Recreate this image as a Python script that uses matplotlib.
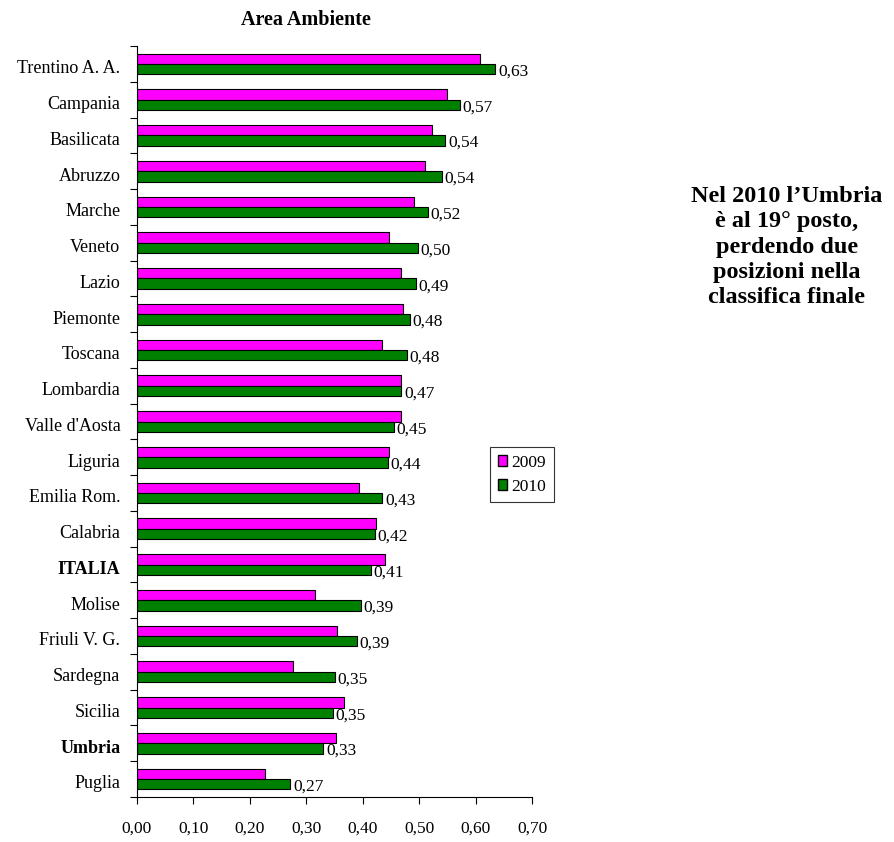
import matplotlib
matplotlib.use("Agg")
import matplotlib.pyplot as plt
import numpy as np
from matplotlib.patches import Patch

plt.rcParams['font.family'] = ['Liberation Serif', 'DejaVu Serif']

regions = ["Trentino A. A.", "Campania", "Basilicata", "Abruzzo", "Marche", "Veneto",
           "Lazio", "Piemonte", "Toscana", "Lombardia", "Valle d'Aosta", "Liguria",
           "Emilia Rom.", "Calabria", "ITALIA", "Molise", "Friuli V. G.", "Sardegna",
           "Sicilia", "Umbria", "Puglia"]
v2009 = [0.607, 0.549, 0.522, 0.510, 0.490, 0.446, 0.468, 0.471, 0.435, 0.468, 0.468,
         0.446, 0.394, 0.424, 0.439, 0.316, 0.355, 0.277, 0.366, 0.352, 0.227]
v2010 = [0.635, 0.572, 0.546, 0.540, 0.515, 0.498, 0.494, 0.483, 0.478, 0.468, 0.455,
         0.444, 0.435, 0.421, 0.414, 0.397, 0.389, 0.350, 0.347, 0.330, 0.272]
labels2010 = ["0,63", "0,57", "0,54", "0,54", "0,52", "0,50", "0,49", "0,48", "0,48", "0,47",
              "0,45", "0,44", "0,43", "0,42", "0,41", "0,39", "0,39", "0,35", "0,35", "0,33", "0,27"]
xticks = [0.0, 0.1, 0.2, 0.3, 0.4, 0.5, 0.6, 0.7]
bold_regions = ["ITALIA", "Umbria"]

fig = plt.figure(figsize=(8.95, 8.42), dpi=100)
ax = fig.add_axes([137/895, 1 - 797/842, (532-137)/895, (797-46)/842])

n = len(regions)
y = np.arange(n)[::-1]
h = 0.29
ax.barh(y + h/2, v2009, height=h, color='#FF00FF', edgecolor='black', linewidth=0.8, label='2009')
ax.barh(y - h/2, v2010, height=h, color='#008000', edgecolor='black', linewidth=0.8, label='2010')

for yi, v, lab in zip(y, v2010, labels2010):
    ax.text(v + 0.005, yi - h/2 - 0.07, lab, va='center', ha='left', fontsize=12.5)

ax.set_xlim(0, 0.70)
ax.set_ylim(-0.5, n - 0.5)
ax.set_xticks(xticks)
ax.set_xticklabels([f"{t:.2f}".replace('.', ',') for t in xticks], fontsize=12.5)
ax.set_yticks(np.arange(-0.5, n, 1.0))
ax.set_yticklabels([])
ax.set_yticks(y - 0.08, minor=True)
ax.set_yticklabels(regions, minor=True, fontsize=13)
ax.tick_params(axis='y', which='minor', length=0, pad=12)
ax.tick_params(axis='y', which='major', length=5, direction='out')
ax.tick_params(axis='x', length=5, direction='out', pad=12)
for lab in ax.get_yticklabels(minor=True):
    if lab.get_text() in bold_regions:
        lab.set_fontweight('bold')
for s in ['top', 'right']:
    ax.spines[s].set_visible(False)

handles = [Patch(facecolor='#FF00FF', edgecolor='black', label='2009'),
           Patch(facecolor='#008000', edgecolor='black', label='2010')]
leg = fig.legend(handles=handles, loc='upper left', bbox_to_anchor=(490/895, 1 - 447/842),
                 fontsize=12.5, frameon=True, fancybox=False, edgecolor='black',
                 handlelength=0.55, handleheight=0.55, handletextpad=0.25, borderpad=0.45,
                 labelspacing=0.45, borderaxespad=0)
leg.get_frame().set_linewidth(0.8)

fig.text(306/895, 1 - 20/842, "Area Ambiente", ha='center', va='center', fontsize=14.5, fontweight='bold')
fig.text(787/895, 1 - 247/842, "Nel 2010 l\u2019Umbria\nè al 19° posto,\nperdendo due\nposizioni nella\nclassifica finale",
         ha='center', va='center', fontsize=17.5, fontweight='bold', linespacing=1.28)

fig.savefig("out.png", dpi=100)
